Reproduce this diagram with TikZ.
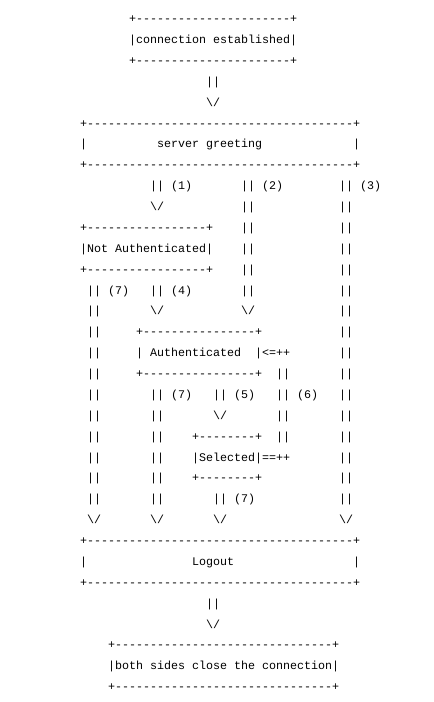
\documentclass[tikz,border=0pt]{standalone}
\usepackage{fontspec}
\setmonofont{Liberation Mono}
\newcommand{\asciirule}[1]{+\foreach\i in {1,...,#1}{-}+}
\tikzset{asc/.style={font=\ttfamily\fontsize{11.67}{14}\selectfont, anchor=base west, inner sep=0pt, outer sep=0pt}}

\begin{document}
\begin{tikzpicture}[x=7pt,y=-20.875pt]
  \path[use as bounding box, fill=white] (0pt,0pt) rectangle (434pt,-702pt);
  \begin{scope}[shift={(-4pt,-1.75pt)}]
  % connection established
  \node[asc] (estTop) at (19,1) {\asciirule{22}};
  \node[asc] (est) at (19,2) {|connection~established|};
  \node[asc] (estBot) at (19,3) {\asciirule{22}};
  \node[asc] (a0) at (30,4) {||};
  \node[asc] (a0h) at (30,5) {\textbackslash/};
  % server greeting
  \node[asc] (grTop) at (12,6) {\asciirule{38}};
  \node[asc] (grL) at (12,7) {|};
  \node[asc] (gr) at (23,7) {server~greeting};
  \node[asc] (grR) at (51,7) {|};
  \node[asc] (grBot) at (12,8) {\asciirule{38}};
  % (1) (2) (3)
  \node[asc] (t1) at (22,9) {||~(1)};
  \node[asc] (t1h) at (22,10) {\textbackslash/};
  \node[asc] (t2) at (35,9) {||~(2)};
  \foreach \r in {10,...,14} \node[asc] (t2-\r) at (35,\r) {||};
  \node[asc] (t2h) at (35,15) {\textbackslash/};
  \node[asc] (t3) at (49,9) {||~(3)};
  \foreach \r in {10,...,24} \node[asc] (t3-\r) at (49,\r) {||};
  \node[asc] (t3h) at (49,25) {\textbackslash/};
  % not authenticated
  \node[asc] (naTop) at (12,11) {\asciirule{17}};
  \node[asc] (na) at (12,12) {|Not~Authenticated|};
  \node[asc] (naBot) at (12,13) {\asciirule{17}};
  \node[asc] (t4) at (22,14) {||~(4)};
  \node[asc] (t4h) at (22,15) {\textbackslash/};
  \node[asc] (t7a) at (13,14) {||~(7)};
  \foreach \r in {15,...,24} \node[asc] (t7a-\r) at (13,\r) {||};
  \node[asc] (t7ah) at (13,25) {\textbackslash/};
  % authenticated
  \node[asc] (auTop) at (20,16) {\asciirule{16}};
  \node[asc] (au) at (20,17) {|~Authenticated~~|<=++};
  \node[asc] (auBot) at (20,18) {\asciirule{16}};
  \node[asc] (t7b) at (22,19) {||~(7)};
  \foreach \r in {20,...,24} \node[asc] (t7b-\r) at (22,\r) {||};
  \node[asc] (t7bh) at (22,25) {\textbackslash/};
  \node[asc] (t5) at (31,19) {||~(5)};
  \node[asc] (t5h) at (31,20) {\textbackslash/};
  \node[asc] (t6-18) at (40,18) {||};
  \node[asc] (t6) at (40,19) {||~(6)};
  \foreach \r in {20,21} \node[asc] (t6-\r) at (40,\r) {||};
  % selected
  \node[asc] (seTop) at (28,21) {\asciirule{8}};
  \node[asc] (se) at (28,22) {|Selected|==++};
  \node[asc] (seBot) at (28,23) {\asciirule{8}};
  \node[asc] (t7c) at (31,24) {||~(7)};
  \node[asc] (t7ch) at (31,25) {\textbackslash/};
  % logout
  \node[asc] (loTop) at (12,26) {\asciirule{38}};
  \node[asc] (loL) at (12,27) {|};
  \node[asc] (lo) at (28,27) {Logout};
  \node[asc] (loR) at (51,27) {|};
  \node[asc] (loBot) at (12,28) {\asciirule{38}};
  \node[asc] (a8) at (30,29) {||};
  \node[asc] (a8h) at (30,30) {\textbackslash/};
  % both sides close
  \node[asc] (clTop) at (16,31) {\asciirule{31}};
  \node[asc] (cl) at (16,32) {|both~sides~close~the~connection|};
  \node[asc] (clBot) at (16,33) {\asciirule{31}};
  \end{scope}
\end{tikzpicture}
\end{document}
